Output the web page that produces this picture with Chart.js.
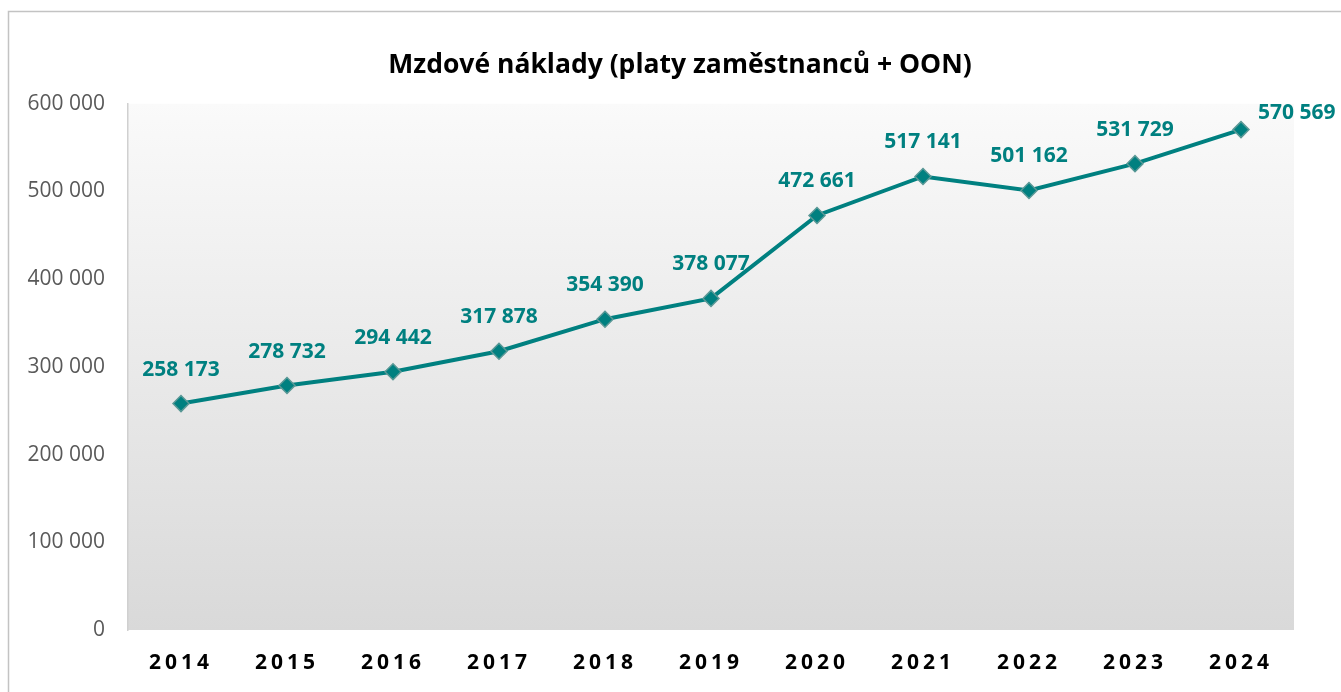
<!DOCTYPE html>
<html>
<head>
<meta charset="utf-8">
<script src="https://cdn.jsdelivr.net/npm/chart.js@4.4.1/dist/chart.umd.min.js"></script>
<style>
  html, body { margin: 0; padding: 0; background: #fff; }
  #wrap { width: 1341px; height: 692px; position: relative; }
</style>
</head>
<body>
<div id="wrap"><canvas id="myChart"></canvas></div>
<script>
// data
const years = ["2014", "2015", "2016", "2017", "2018", "2019", "2020", "2021", "2022", "2023", "2024"];
const wageCosts = [258173, 278732, 294442, 317878, 354390, 378077, 472661, 517141, 501162, 531729, 570569];
const yTicks = [0, 100000, 200000, 300000, 400000, 500000, 600000];

const teal = "#008080";
const fmt = (v) => String(v).replace(/\B(?=(\d{3})+(?!\d))/g, " ");

// frame around the chart + gradient plot area
const backdrop = {
  id: "backdrop",
  beforeDraw(chart) {
    const { ctx, chartArea: a } = chart;
    ctx.save();
    ctx.strokeStyle = "#c3c3c3";
    ctx.lineWidth = 1.5;
    ctx.beginPath();
    ctx.moveTo(8.5, chart.height);
    ctx.lineTo(8.5, 11.5);
    ctx.lineTo(chart.width, 11.5);
    ctx.stroke();
    const g = ctx.createLinearGradient(0, a.top, 0, a.bottom);
    g.addColorStop(0, "#fafafa");
    g.addColorStop(1, "#d9d9d9");
    ctx.fillStyle = g;
    ctx.fillRect(a.left, a.top, a.right - a.left, a.bottom - a.top);
    ctx.restore();
  },
  afterLayout(chart) {
    // title sits a bit right of the canvas centre in the original
    chart.titleBlock.left = 66;
    // spaced-out year labels on the x axis
    const s = chart.scales.x;
    if (!s._spaced) {
      const orig = s.drawLabels.bind(s);
      s.drawLabels = function (ca) {
        this.ctx.save();
        this.ctx.letterSpacing = "4px";
        orig(ca);
        this.ctx.restore();
      };
      s._spaced = true;
    }
  },
  afterDraw(chart) {
    // title box in the original cuts off the descenders
    const { ctx } = chart;
    ctx.save();
    ctx.fillStyle = "#fff";
    ctx.fillRect(300, 79, 750, chart.chartArea.top - 81);
    ctx.restore();
  }
};

// value labels above the points
const valueLabels = {
  id: "valueLabels",
  afterDatasetsDraw(chart) {
    const { ctx } = chart;
    const meta = chart.getDatasetMeta(0);
    ctx.save();
    ctx.font = "bold 21px 'Open Sans'";
    ctx.fillStyle = teal;
    ctx.textBaseline = "middle";
    meta.data.forEach((pt, i) => {
      const txt = fmt(wageCosts[i]);
      if (i === meta.data.length - 1) {
        ctx.textAlign = "left";
        ctx.fillText(txt, pt.x + 17, pt.y - 17);
      } else {
        ctx.textAlign = "center";
        ctx.fillText(txt, pt.x, pt.y - 34);
      }
    });
    ctx.restore();
  }
};

new Chart(document.getElementById("myChart"), {
  type: "line",
  data: {
    labels: years,
    datasets: [
      {
        label: "Mzdové náklady",
        data: wageCosts,
        borderColor: teal,
        borderWidth: 4,
        tension: 0,
        fill: false,
        pointStyle: "rectRot",
        pointRadius: 8,
        pointHoverRadius: 8,
        pointBackgroundColor: teal,
        pointBorderColor: "#5a9896",
        pointBorderWidth: 1.5
      }
    ]
  },
  options: {
    responsive: true,
    maintainAspectRatio: false,
    animation: false,
    layout: { padding: { left: 0, right: 47, top: 0, bottom: 0 } },
    plugins: {
      legend: { display: false },
      tooltip: { enabled: false },
      title: {
        display: true,
        text: "Mzdové náklady (platy zaměstnanců + OON)",
        color: "#000",
        font: { family: "'Open Sans'", size: 26.5, weight: "bold" },
        padding: { top: 50, bottom: 22 }
      }
    },
    scales: {
      x: {
        offset: true,
        grid: { display: false, drawTicks: false },
        border: { display: false },
        ticks: {
          color: "#000",
          padding: 20,
          font: { family: "'Open Sans'", size: 21, weight: "bold" }
        },
        afterFit(s) { s.height = 62; }
      },
      y: {
        min: 0,
        max: 600000,
        afterBuildTicks(s) { s.ticks = yTicks.map((v) => ({ value: v })); },
        grid: { display: false, drawTicks: false },
        border: { display: true, color: "#d0d0d0", width: 1.5 },
        ticks: {
          color: "#595959",
          padding: 23,
          font: { family: "'Open Sans'", size: 21 },
          callback: (v) => fmt(v)
        },
        afterFit(s) { s.width = 128; }
      }
    }
  },
  plugins: [backdrop, valueLabels]
});
</script>
</body>
</html>
